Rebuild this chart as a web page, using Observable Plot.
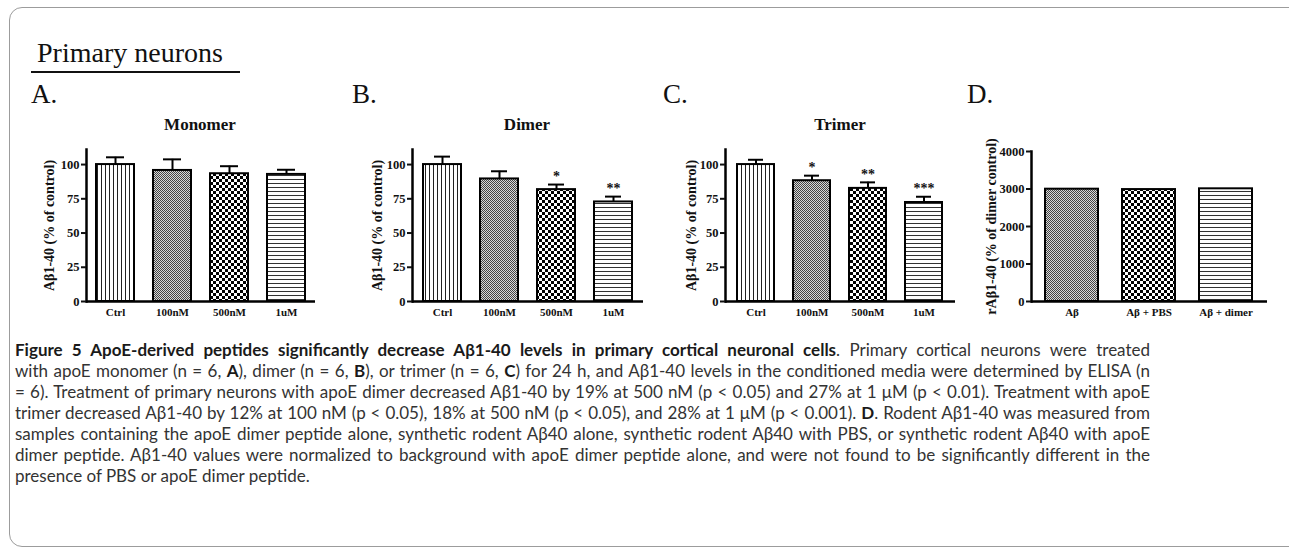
<!DOCTYPE html>
<html>
<head>
<meta charset="utf-8">
<script src="https://cdn.jsdelivr.net/npm/d3@7"></script>
<script src="https://cdn.jsdelivr.net/npm/@observablehq/plot@0.6"></script>
<style>
  html, body { margin: 0; padding: 0; background: #fff; }
  #page { position: relative; width: 1289px; height: 552px; overflow: hidden; font-family: "Liberation Serif", serif; color: #111; }
  .abs { position: absolute; }
  .border { left: 9px; top: 7px; width: 1300px; height: 540px; border: 1px solid #9c9c9c; border-radius: 13px; box-sizing: border-box; }
  .heading { left: 37px; top: 37px; font-size: 28px; line-height: 32px; white-space: nowrap; }
  .rule { left: 31px; top: 71px; width: 209px; height: 2px; background: #111; }
  .letter { top: 78px; font-size: 27px; line-height: 32px; }
  .ptitle { top: 115px; width: 200px; text-align: center; font-size: 17px; font-weight: bold; line-height: 20px; }
  .caption { left: 15px; top: 339px; width: 1135px; font-family: Lato, sans-serif; font-size: 17px; line-height: 21px; color: #333; }
  .caption div { text-align: justify; text-align-last: justify; }
  .caption div.last { text-align: left; text-align-last: left; }
  .caption b { color: #1a1a1a; }
</style>
</head>
<body>
<svg width="0" height="0" style="position:absolute">
  <defs>
    <pattern id="pV" width="4" height="4" patternUnits="userSpaceOnUse">
      <rect width="4" height="4" fill="#fff"/><rect x="1" width="1" height="4" fill="#222"/>
    </pattern>
    <pattern id="pH" width="4" height="4" patternUnits="userSpaceOnUse">
      <rect width="4" height="4" fill="#fff"/><rect y="1" width="4" height="1" fill="#333"/>
    </pattern>
    <pattern id="pDot" width="2" height="2" patternUnits="userSpaceOnUse">
      <rect width="2" height="2" fill="#d8d8d8"/><rect width="1" height="1" fill="#444"/><rect x="1" y="1" width="1" height="1" fill="#444"/>
    </pattern>
    <pattern id="pChk" width="6" height="6" patternUnits="userSpaceOnUse">
      <rect width="6" height="6" fill="#fff"/><rect width="3" height="3" fill="#000"/><rect x="3" y="3" width="3" height="3" fill="#000"/>
    </pattern>
  </defs>
</svg>
<div id="page">
  <div class="abs border"></div>
  <div class="abs heading">Primary neurons</div>
  <div class="abs rule"></div>
  <div class="abs letter" style="left:31px">A.</div>
  <div class="abs letter" style="left:352px">B.</div>
  <div class="abs letter" style="left:663px">C.</div>
  <div class="abs letter" style="left:967px">D.</div>
  <div class="abs ptitle" style="left:100px">Monomer</div>
  <div class="abs ptitle" style="left:427px">Dimer</div>
  <div class="abs ptitle" style="left:740px">Trimer</div>
  <div class="abs" id="pA" style="left:0px;top:110px"></div>
  <div class="abs" id="pB" style="left:320px;top:110px"></div>
  <div class="abs" id="pC" style="left:640px;top:110px"></div>
  <div class="abs" id="pD" style="left:960px;top:110px"></div>
  <div class="abs caption">
    <div><b>Figure 5 ApoE-derived peptides significantly decrease Aβ1-40 levels in primary cortical neuronal cells</b>. Primary cortical neurons were treated</div>
    <div>with apoE monomer (n = 6, <b>A</b>), dimer (n = 6, <b>B</b>), or trimer (n = 6, <b>C</b>) for 24 h, and Aβ1-40 levels in the conditioned media were determined by ELISA (n</div>
    <div>= 6). Treatment of primary neurons with apoE dimer decreased Aβ1-40 by 19% at 500 nM (p &lt; 0.05) and 27% at 1 μM (p &lt; 0.01). Treatment with apoE</div>
    <div>trimer decreased Aβ1-40 by 12% at 100 nM (p &lt; 0.05), 18% at 500 nM (p &lt; 0.05), and 28% at 1 μM (p &lt; 0.001). <b>D</b>. Rodent Aβ1-40 was measured from</div>
    <div>samples containing the apoE dimer peptide alone, synthetic rodent Aβ40 alone, synthetic rodent Aβ40 with PBS, or synthetic rodent Aβ40 with apoE</div>
    <div>dimer peptide. Aβ1-40 values were normalized to background with apoE dimer peptide alone, and were not found to be significantly different in the</div>
    <div class="last">presence of PBS or apoE dimer peptide.</div>
  </div>
</div>
<script>
// ---------- data ----------
const treatments = ["Ctrl", "100nM", "500nM", "1uM"];
const monomerMean = [100, 95.7, 93.3, 92.8];
const monomerSem = [5.3, 8.1, 5.5, 3.4];
const monomerSig = ["", "", "", ""];
const dimerMean = [100, 89.5, 81.7, 72.7];
const dimerSem = [5.8, 5.6, 3.7, 3.9];
const dimerSig = ["", "", "*", "**"];
const trimerMean = [100, 88.2, 82.6, 72.3];
const trimerSem = [3.5, 3.7, 4.4, 4.2];
const trimerSig = ["", "*", "**", "***"];
const controlGroups = ["Aβ", "Aβ + PBS", "Aβ + dimer"];
const controlMean = [2995, 2985, 3005];
const controlSem = [0, 0, 0];
const controlSig = ["", "", ""];
const percentTicks = [0, 25, 50, 75, 100];
const dimerControlTicks = [0, 1000, 2000, 3000, 4000];
const percentLabel = "Aβ1-40 (% of control)";
const dimerControlLabel = "rAβ1-40 (% of dimer control)";

// ---------- styles (fill patterns per group) ----------
const treatmentFills = ["url(#pV)", "url(#pDot)", "url(#pChk)", "url(#pH)"];
const controlFills = ["url(#pDot)", "url(#pChk)", "url(#pH)"];

function rowsOf(cats, mean, sem, sig) {
  return cats.map((c, i) => ({cat: c, mean: mean[i], sem: sem[i], top: mean[i] + sem[i], sig: sig[i]}));
}

function panel(el, cfg) {
  const rows = rowsOf(cfg.cats, cfg.mean, cfg.sem, cfg.sig);
  const withErr = rows.filter(d => d.sem > 0);
  const chart = Plot.plot({
    width: cfg.width, height: 215,
    marginLeft: cfg.ml, marginRight: cfg.mr, marginTop: cfg.mt, marginBottom: 24,
    style: {fontFamily: "Liberation Serif, serif", color: "#111", background: "transparent", overflow: "visible"},
    x: {domain: cfg.cats, paddingInner: cfg.pi, paddingOuter: cfg.po, align: 0.5},
    y: {domain: cfg.ydomain},
    color: {type: "ordinal", domain: cfg.cats, range: cfg.fills},
    marks: [
      Plot.barY(rows, {x: "cat", y: "mean", fill: "cat", stroke: "#000", strokeWidth: 2}),
      Plot.ruleX(withErr, {x: "cat", y1: "mean", y2: "top", stroke: "#000", strokeWidth: 2}),
      Plot.tickY(withErr, {x: "cat", y: "top", stroke: "#000", strokeWidth: 2, insetLeft: cfg.cap, insetRight: cfg.cap}),
      Plot.text(rows, {x: "cat", y: "top", text: "sig", dy: -8, fontSize: 14, fontWeight: "bold"}),
      Plot.ruleY([0], {stroke: "#000", strokeWidth: 2.5}),
      Plot.frame({anchor: "left", stroke: "#000", strokeWidth: 2.5}),
      Plot.axisY({ticks: cfg.ticks, tickFormat: d => String(d), tickSize: 5, tickPadding: 2, fontSize: 12.5, fontWeight: "bold", strokeWidth: 2, label: null}),
      Plot.axisX({tickSize: 0, tickPadding: 7, fontSize: 11, fontWeight: "bold", label: null}),
      Plot.text([cfg.ylabel], {text: d => d, frameAnchor: "left", rotate: -90, dx: cfg.ldx, textAnchor: "middle", lineAnchor: "middle", fontSize: 14, fontWeight: "bold"})
    ]
  });
  document.getElementById(el).appendChild(chart);
}

panel("pA", {cats: treatments, mean: monomerMean, sem: monomerSem, sig: monomerSig, fills: treatmentFills,
  width: 330, ml: 86, mr: 15, mt: 39, ydomain: [0, 111], ticks: percentTicks, ylabel: percentLabel, ldx: -37,
  pi: 0.333, po: 0.175, cap: 10});
panel("pB", {cats: treatments, mean: dimerMean, sem: dimerSem, sig: dimerSig, fills: treatmentFills,
  width: 330, ml: 92, mr: 7, mt: 39, ydomain: [0, 111], ticks: percentTicks, ylabel: percentLabel, ldx: -35,
  pi: 0.333, po: 0.175, cap: 11});
panel("pC", {cats: treatments, mean: trimerMean, sem: trimerSem, sig: trimerSig, fills: treatmentFills,
  width: 330, ml: 85, mr: 15, mt: 39, ydomain: [0, 111], ticks: percentTicks, ylabel: percentLabel, ldx: -34,
  pi: 0.333, po: 0.19, cap: 11});
panel("pD", {cats: controlGroups, mean: controlMean, sem: controlSem, sig: controlSig, fills: controlFills,
  width: 329, ml: 71, mr: 22, mt: 41, ydomain: [0, 4000], ticks: dimerControlTicks, ylabel: dimerControlLabel, ldx: -40,
  pi: 0.308, po: 0.167, cap: 18});
</script>
</body>
</html>
